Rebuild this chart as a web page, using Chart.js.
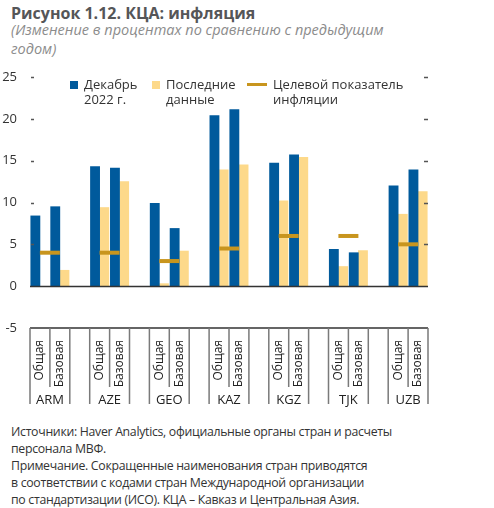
<!DOCTYPE html>
<html lang="ru">
<head>
<meta charset="utf-8">
<script src="https://cdn.jsdelivr.net/npm/chart.js@4"></script>
<style>
  body { margin: 0; background: #fff; width: 494px; height: 508px; position: relative; overflow: hidden; font-family: "Open Sans", sans-serif; }
  #title { position: absolute; left: 11px; top: 2px; font-size: 16px; font-weight: 700; color: #555658; }
  #subtitle { position: absolute; left: 11px; top: 21px; font-size: 14.5px; font-style: italic; color: #8c8c8c; line-height: 18.5px; width: 420px; }
  #wrap { position: absolute; left: 0; top: 60px; width: 494px; height: 350px; }
  .leg { position: absolute; font-size: 13px; color: #333; line-height: 15px; }
  .sw { position: absolute; }
  #note { position: absolute; left: 11px; top: 423px; font-size: 12.3px; letter-spacing: -0.3px; color: #333; line-height: 17px; }
</style>
</head>
<body>
<div id="title">Рисунок 1.12. КЦА: инфляция</div>
<div id="subtitle">(Изменение в процентах по сравнению с предыдущим годом)</div>
<div id="wrap"><canvas id="inflChart" width="494" height="350"></canvas></div>

<div class="sw" style="left:70px;top:81px;width:8px;height:8px;background:#005a9c"></div>
<div class="leg" style="left:84px;top:77px">Декабрь<br>2022 г.</div>
<div class="sw" style="left:152px;top:81px;width:8px;height:8px;background:#fdd98a"></div>
<div class="leg" style="left:166px;top:77px">Последние<br>данные</div>
<div class="sw" style="left:247px;top:83px;width:20px;height:3px;background:#c8951e"></div>
<div class="leg" style="left:273px;top:77px">Целевой показатель<br>инфляции</div>

<div id="note">Источники: Haver Analytics, официальные органы стран и расчеты<br>персонала МВФ.<br>Примечание. Сокращенные наименования стран приводятся<br>в соответствии с кодами стран Международной организации<br>по стандартизации (ИСО). КЦА – Кавказ и Центральная Азия.</div>

<script>
// Данные
const countries = ['ARM', 'AZE', 'GEO', 'KAZ', 'KGZ', 'TJK', 'UZB'];
const measures = ['Общая', 'Базовая'];
const dec2022Headline = [8.4, 14.3, 9.9, 20.4, 14.7, 4.4, 12.0];
const dec2022Core     = [9.5, 14.1, 6.9, 21.1, 15.7, 4.0, 13.9];
const latestHeadline  = [null, 9.4, 0.3, 13.9, 10.2, 2.35, 8.6];
const latestCore      = [1.9, 12.5, 4.2, 14.5, 15.4, 4.25, 11.3];
const targets         = [4, 4, 3, 4.5, 6, 6, 5];
const yTicks = [-5, 0, 5, 10, 15, 20, 25];

// 2 столбца на страну + пустой промежуток между странами
const labels = [], decData = [], lastData = [], targetPts = [];
countries.forEach((c, i) => {
    labels.push(measures[0], measures[1]);
    decData.push(dec2022Headline[i], dec2022Core[i]);
    lastData.push(latestHeadline[i], latestCore[i]);
    // граница между "Общая" и "Базовая" на оси xT (0..20)
    targetPts.push({ x: labels.length - 1, y: targets[i] });
    if (i < countries.length - 1) {
        labels.push('');
        decData.push(null);
        lastData.push(null);
    }
});

const axisLines = {
    id: 'axisLines',
    afterDatasetsDraw(chart) {
        const { ctx, chartArea: a, scales } = chart;
        const x = scales.x, y = scales.y;
        const w = x.getPixelForValue(1) - x.getPixelForValue(0);
        ctx.save();
        ctx.strokeStyle = '#333';
        ctx.lineWidth = 1.5;
        ctx.beginPath();
        const y0 = Math.round(y.getPixelForValue(0)) + 0.5;
        ctx.moveTo(a.left, y0); ctx.lineTo(a.right, y0);
        ctx.moveTo(a.left, a.bottom); ctx.lineTo(a.right, a.bottom);
        ctx.stroke();

        // короткие штрихи делений
        ctx.strokeStyle = '#555';
        ctx.beginPath();
        yTicks.filter(v => v > 0).forEach(v => {
            const py = Math.round(y.getPixelForValue(v)) + 0.5;
            ctx.moveTo(a.left + 1, py); ctx.lineTo(a.left + 4, py);
            ctx.moveTo(a.right - 4, py); ctx.lineTo(a.right, py);
        });
        ctx.stroke();

        // разделители и названия стран
        ctx.strokeStyle = '#7a7a7a';
        ctx.fillStyle = '#222';
        ctx.font = '13px "Open Sans"';
        ctx.textAlign = 'center';
        ctx.textBaseline = 'middle';
        countries.forEach((c, i) => {
            const s = i * 3;
            const left = x.getPixelForValue(s) - w / 2;
            const mid = x.getPixelForValue(s) + w / 2;
            const right = x.getPixelForValue(s + 1) + w / 2;
            ctx.beginPath();
            ctx.moveTo(left, a.bottom); ctx.lineTo(left, a.bottom + 76);
            ctx.moveTo(right, a.bottom); ctx.lineTo(right, a.bottom + 76);
            ctx.moveTo(mid, a.bottom); ctx.lineTo(mid, a.bottom + 59);
            ctx.stroke();
            ctx.fillText(c, mid, a.bottom + 72);
        });
        ctx.restore();
    }
};

const ctx = document.getElementById('inflChart').getContext('2d');
new Chart(ctx, {
    type: 'bar',
    data: {
        labels: labels,
        datasets: [{
            type: 'line',
            label: 'Целевой показатель инфляции',
            data: targetPts,
            xAxisID: 'xT',
            showLine: false,
            pointStyle: 'line',
            pointRadius: 10,
            pointBorderWidth: 4,
            borderColor: '#c8951e',
            backgroundColor: '#c8951e',
            order: 0
        }, {
            label: 'Декабрь 2022 г.',
            data: decData,
            backgroundColor: '#005a9c',
            barThickness: 9.2,
            order: 1
        }, {
            label: 'Последние данные',
            data: lastData,
            backgroundColor: '#fdd98a',
            barThickness: 9.2,
            order: 1
        }]
    },
    options: {
        responsive: false,
        animation: false,
        layout: { padding: { top: 17, right: 66, left: 0, bottom: 0 } },
        plugins: { legend: { display: false }, tooltip: { enabled: false } },
        scales: {
            x: {
                type: 'category',
                offset: true,
                grid: { display: false },
                border: { display: false },
                ticks: {
                    autoSkip: false,
                    minRotation: 90,
                    maxRotation: 90,
                    padding: 4,
                    color: '#222',
                    font: { family: 'Open Sans', size: 12 }
                },
                afterFit: s => { s.height = 82; }
            },
            xT: {
                type: 'linear',
                display: false,
                min: 0,
                max: labels.length,
                offset: false
            },
            y: {
                min: -5,
                max: 25,
                grid: { display: false },
                border: { display: false },
                ticks: {
                    stepSize: 5,
                    padding: 5,
                    color: '#333',
                    font: { family: 'Open Sans', size: 13 }
                },
                afterFit: s => { s.width = 30; }
            }
        }
    },
    plugins: [axisLines]
});
</script>
</body>
</html>
